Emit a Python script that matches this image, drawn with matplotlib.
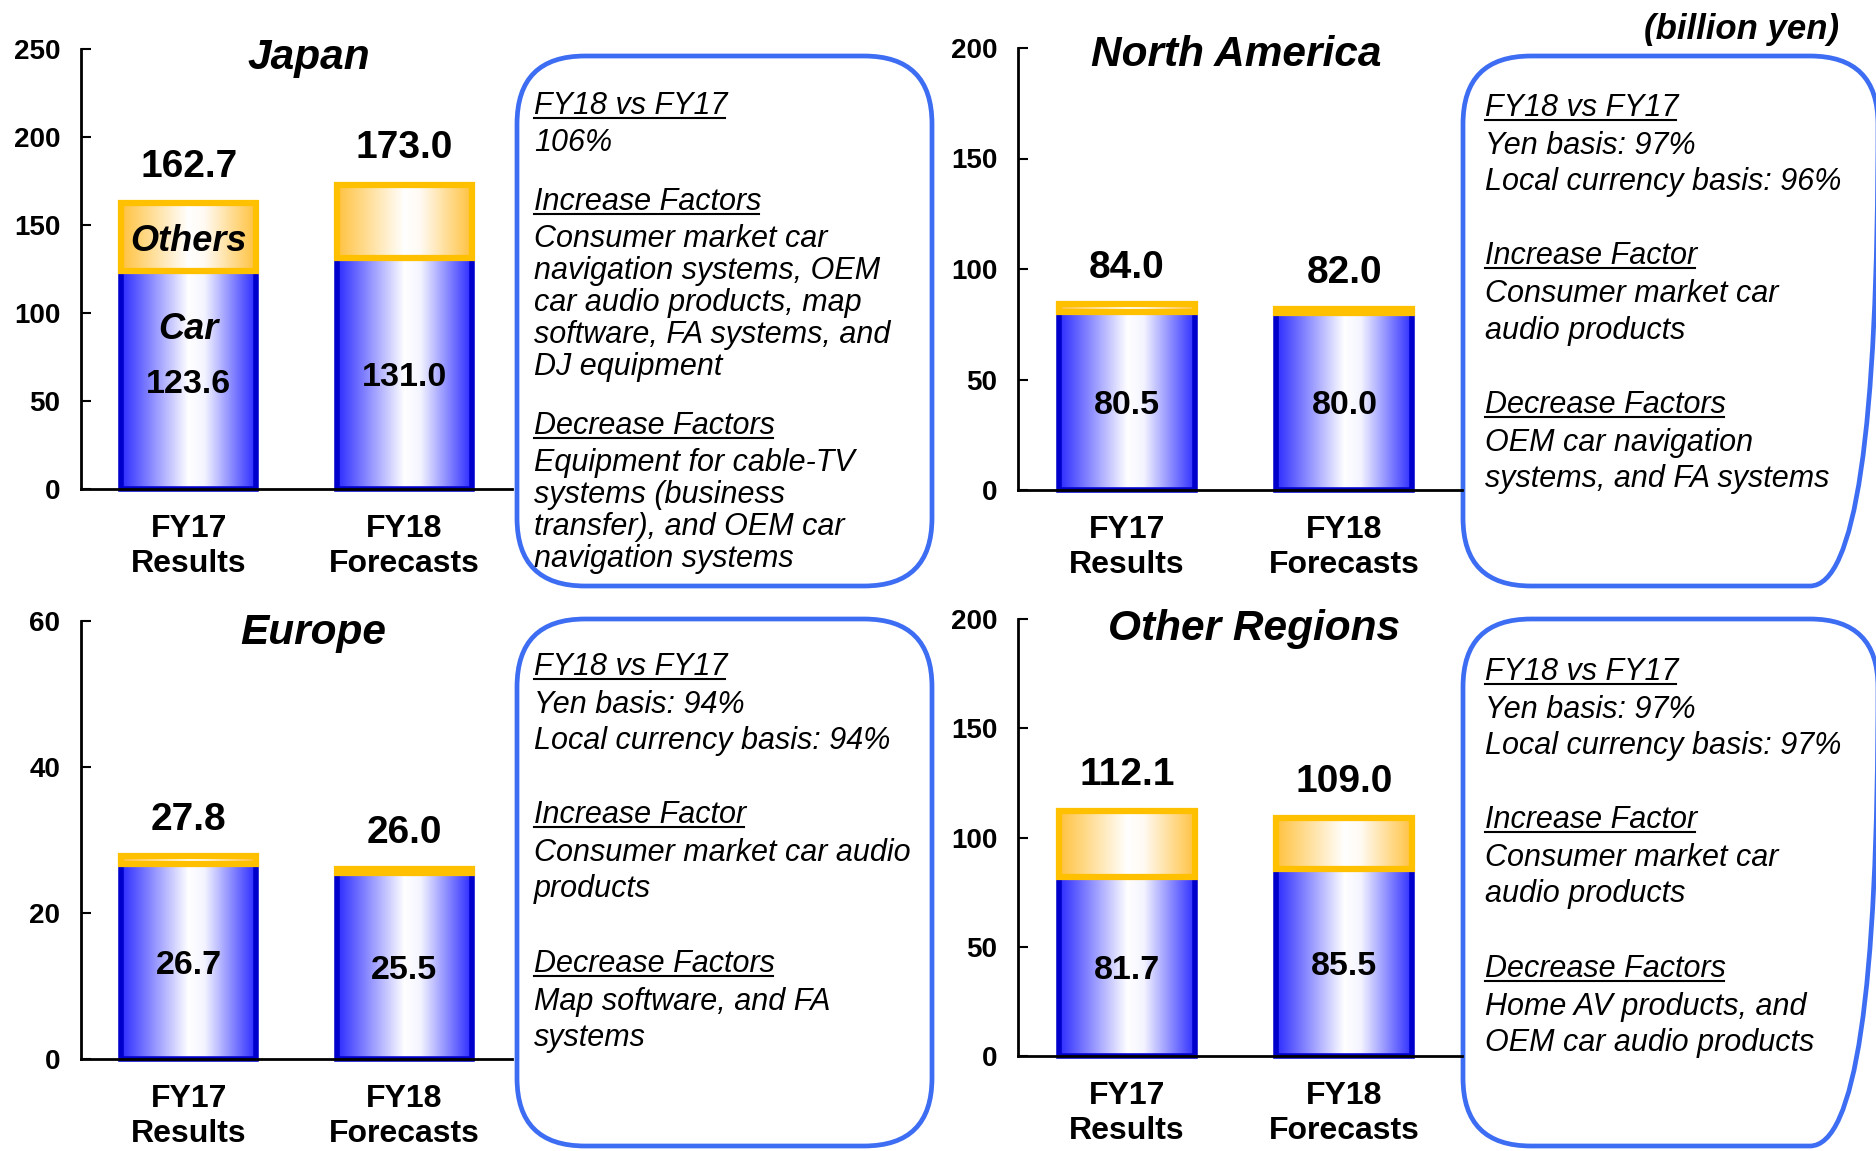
import matplotlib.pyplot as plt
import numpy as np
from matplotlib.colors import LinearSegmentedColormap
from matplotlib.patches import FancyBboxPatch

plt.rcParams['font.family'] = ['Liberation Sans', 'DejaVu Sans']

# data (billion yen)
periods = ['FY17\nResults', 'FY18\nForecasts']

japan_car = [123.6, 131.0]
japan_total = [162.7, 173.0]
na_car = [80.5, 80.0]
na_total = [84.0, 82.0]
europe_car = [26.7, 25.5]
europe_total = [27.8, 26.0]
other_car = [81.7, 85.5]
other_total = [112.1, 109.0]

japan_ticks = [0, 50, 100, 150, 200, 250]
na_ticks = [0, 50, 100, 150, 200]
europe_ticks = [0, 20, 40, 60]
other_ticks = [0, 50, 100, 150, 200]

# (text, heading?) ; None = blank line
japan_notes = [("FY18 vs FY17", True), ("106%", False), None,
               ("Increase Factors", True), ("Consumer market car", False),
               ("navigation systems, OEM", False), ("car audio products, map", False),
               ("software, FA systems, and", False), ("DJ equipment", False), None,
               ("Decrease Factors", True), ("Equipment for cable-TV", False),
               ("systems (business", False), ("transfer), and OEM car", False),
               ("navigation systems", False)]
na_notes = [("FY18 vs FY17", True), ("Yen basis: 97%", False),
            ("Local currency basis: 96%", False), None,
            ("Increase Factor", True), ("Consumer market car", False),
            ("audio products", False), None,
            ("Decrease Factors", True), ("OEM car navigation", False),
            ("systems, and FA systems", False)]
europe_notes = [("FY18 vs FY17", True), ("Yen basis: 94%", False),
                ("Local currency basis: 94%", False), None,
                ("Increase Factor", True), ("Consumer market car audio", False),
                ("products", False), None,
                ("Decrease Factors", True), ("Map software, and FA", False),
                ("systems", False)]
other_notes = [("FY18 vs FY17", True), ("Yen basis: 97%", False),
               ("Local currency basis: 97%", False), None,
               ("Increase Factor", True), ("Consumer market car", False),
               ("audio products", False), None,
               ("Decrease Factors", True), ("Home AV products, and", False),
               ("OEM car audio products", False)]

W, H = 1876, 1151
fig = plt.figure(figsize=(W / 100, H / 100), dpi=100)

blue_cmap = LinearSegmentedColormap.from_list(
    'blue', [(0, '#2B2BFF'), (0.5, '#FFFFFF'), (0.62, '#F4F4FF'), (1, '#2B2BFF')])
orange_cmap = LinearSegmentedColormap.from_list(
    'orange', [(0, '#FFC23F'), (0.5, '#FFFFFF'), (0.62, '#FFFAF2'), (1, '#FFC23F')])
grad = np.linspace(0, 1, 256).reshape(1, -1)


def px_axes(left, right, y0, ytop):
    return fig.add_axes([left / W, (H - y0) / H, (right - left) / W, (y0 - ytop) / H])


def draw_panel(ax, car, total, ticks, title, tpos, xmax=1.5):
    car = np.array(car)
    others = np.array(total) - car
    x = np.arange(len(periods))
    ax.set_facecolor('none')
    blue = ax.bar(x, car, width=0.625, color='none', edgecolor='#0000CC',
                  linewidth=4, zorder=2, clip_on=False)
    orange = ax.bar(x, others, bottom=car, width=0.625, color='none',
                    edgecolor='#FFC000', linewidth=4.5, zorder=3, clip_on=False)
    for bars, cmap in ((blue, blue_cmap), (orange, orange_cmap)):
        for p in bars:
            im = ax.imshow(grad, cmap=cmap, aspect='auto', interpolation='bilinear',
                           extent=[p.get_x(), p.get_x() + p.get_width(),
                                   p.get_y(), p.get_y() + p.get_height()],
                           zorder=p.get_zorder() - 0.5)
            im.set_clip_path(p)
    ax.set_xlim(-0.5, xmax)
    ax.set_ylim(ticks[0], ticks[-1])
    ax.set_yticks(ticks)
    ax.set_xticks(x)
    ax.set_xticklabels(periods, fontsize=23, fontweight='bold', linespacing=1.22)
    ax.tick_params(axis='x', length=0, pad=18)
    ax.tick_params(axis='y', direction='in', length=7, width=1.5, pad=15,
                   labelsize=20)
    for lab in ax.get_yticklabels():
        lab.set_fontweight('bold')
    for s in ('top', 'right'):
        ax.spines[s].set_visible(False)
    for s in ('left', 'bottom'):
        ax.spines[s].set_linewidth(2)
    for i in x:
        ax.annotate(f'{total[i]:.1f}', (x[i], total[i]), xytext=(0, 26),
                    textcoords='offset points', ha='center', va='center',
                    fontsize=28, fontweight='bold')
        ax.annotate(f'{car[i]:.1f}', (x[i], car[i] / 2), xytext=(0, -3),
                    textcoords='offset points', ha='center', va='center',
                    fontsize=24.5, fontweight='bold', zorder=5)
    ax.text(tpos[0], tpos[1], title, transform=ax.transAxes, ha='center',
            va='center', fontsize=30.5, fontweight='bold', style='italic')
    return car, others


ax1 = px_axes(81, 512, 489, 49)
car, others = draw_panel(ax1, japan_car, japan_total, japan_ticks, 'Japan', (0.529, 0.979))
ax1.annotate('Car', (0, 92), xytext=(0, -2), textcoords='offset points',
             ha='center', va='center', fontsize=26, fontweight='bold',
             style='italic', zorder=5)
ax1.annotate('Others', (0, car[0] + others[0] / 2), xytext=(0, -3),
             textcoords='offset points', ha='center', va='center',
             fontsize=26, fontweight='bold', style='italic', zorder=5)

ax2 = px_axes(1018, 1462, 490, 48)
draw_panel(ax2, na_car, na_total, na_ticks, 'North America', (0.491, 0.985), xmax=1.54)

ax3 = px_axes(81, 512, 1059, 621)
draw_panel(ax3, europe_car, europe_total, europe_ticks, 'Europe', (0.538, 0.972))

ax4 = px_axes(1018, 1462, 1056, 619)
draw_panel(ax4, other_car, other_total, other_ticks, 'Other Regions', (0.532, 0.977), xmax=1.54)

fig.text(1839 / W, 1 - 30 / H, '(billion yen)', ha='right', va='center',
         fontsize=25, fontweight='bold', style='italic')

# overlay in pixel coordinates for the comment boxes
ov = fig.add_axes([0, 0, 1, 1], zorder=-1)
ov.set_xlim(0, W)
ov.set_ylim(H, 0)
ov.axis('off')

boxes = [((517, 56, 415, 530), 534, 106, 32, 5, 27, japan_notes),
         ((1463, 56, 415, 530), 1485, 108, 36.3, 1.5, 38, na_notes),
         ((517, 619, 415, 527), 534, 667, 36.3, 1.5, 38, europe_notes),
         ((1463, 619, 415, 527), 1485, 672, 36.3, 1.5, 38, other_notes)]

headings = []
for (bx, by, bw, bh), tx, y, step, head_extra, blank, notes in boxes:
    ov.add_patch(FancyBboxPatch((bx, by), bw, bh,
                                boxstyle='round,pad=0,rounding_size=68',
                                fc='none', ec='#3D6DF2', lw=3.4))
    for item in notes:
        if item is None:
            y += blank
            continue
        s, head = item
        t = ov.text(tx, y, s, ha='left', va='center', fontsize=22, style='italic')
        if head:
            headings.append((t, y))
            y += head_extra
        y += step

fig.canvas.draw()
inv = ov.transData.inverted()
for t, y in headings:
    bb = t.get_window_extent()
    x0 = inv.transform((bb.x0, 0))[0]
    x1 = inv.transform((bb.x1, 0))[0]
    ov.plot([x0, x1 - 2], [y + 12, y + 12], color='black', lw=1.5)

fig.savefig('out.png', dpi=100)
